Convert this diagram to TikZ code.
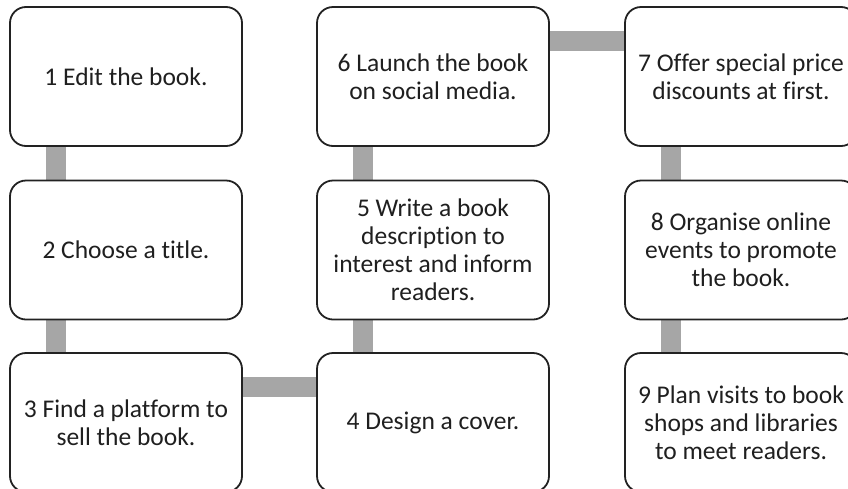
\documentclass[tikz,border=0pt]{standalone}
\usepackage{fontspec}
\setmainfont{Carlito}[Ligatures=NoCommon]
\usepackage{tikz}
\usetikzlibrary{calc,positioning,backgrounds}
\definecolor{linkgray}{RGB}{166,166,166}
\definecolor{edgeblack}{RGB}{34,34,34}

\begin{document}
\begin{tikzpicture}[x=1pt,y=-1pt]
        \tikzstyle{task}=[draw=edgeblack, line width=1.8pt, rounded corners=16pt, fill=white,
            minimum width=232pt, minimum height=139pt, inner sep=0pt, align=center,
            font=\fontsize{25.5}{28}\selectfont, text=black!88]
        \tikzstyle{link}=[linkgray, line width=20pt]
        \useasboundingbox (0,0) rectangle (848,488);
        \clip (0,0) rectangle (848,488);
        % First column (top to bottom)
        \node[task] (t1) at (126,76.5) {1 Edit the book.};
        \node[task] (t2) at (126,250) {2 Choose a title.};
        \node[task] (t3) at (126,422.5) {3 Find a platform to\\sell the book.};
        % Second column (bottom to top)
        \node[task] (t4) at (433,422.5) {4 Design a cover.};
        \node[task] (t5) at (433,250) {5 Write a book\\description to\\interest and inform\\readers.};
        \node[task] (t6) at (433,76.5) {6 Launch the book\\on social media.};
        % Third column (top to bottom)
        \node[task] (t7) at (741,76.5) {7 Offer special price\\discounts at first.};
        \node[task] (t8) at (741,250) {8 Organise online\\events to promote\\the book.};
        \node[task] (t9) at (741,422.5) {9 Plan visits to book\\shops and libraries\\to meet readers.};
        % Grey bars joining the steps, kept behind the boxes
        \begin{scope}[on background layer]
        \draw[link] ([xshift=47pt]t1.south west) -- ([xshift=47pt]t2.north west);
        \draw[link] ([xshift=47pt]t2.south west) -- ([xshift=47pt]t3.north west);
        \draw[link] ([yshift=-34.5pt]t3.north east) -- ([yshift=-34.5pt]t4.north west);
        \draw[link] ([xshift=47pt]t4.north west) -- ([xshift=47pt]t5.south west);
        \draw[link] ([xshift=47pt]t5.north west) -- ([xshift=47pt]t6.south west);
        \draw[link] ([yshift=-34.5pt]t6.north east) -- ([yshift=-34.5pt]t7.north west);
        \draw[link] ([xshift=47pt]t7.south west) -- ([xshift=47pt]t8.north west);
        \draw[link] ([xshift=47pt]t8.south west) -- ([xshift=47pt]t9.north west);
        \end{scope}
\end{tikzpicture}
\end{document}
